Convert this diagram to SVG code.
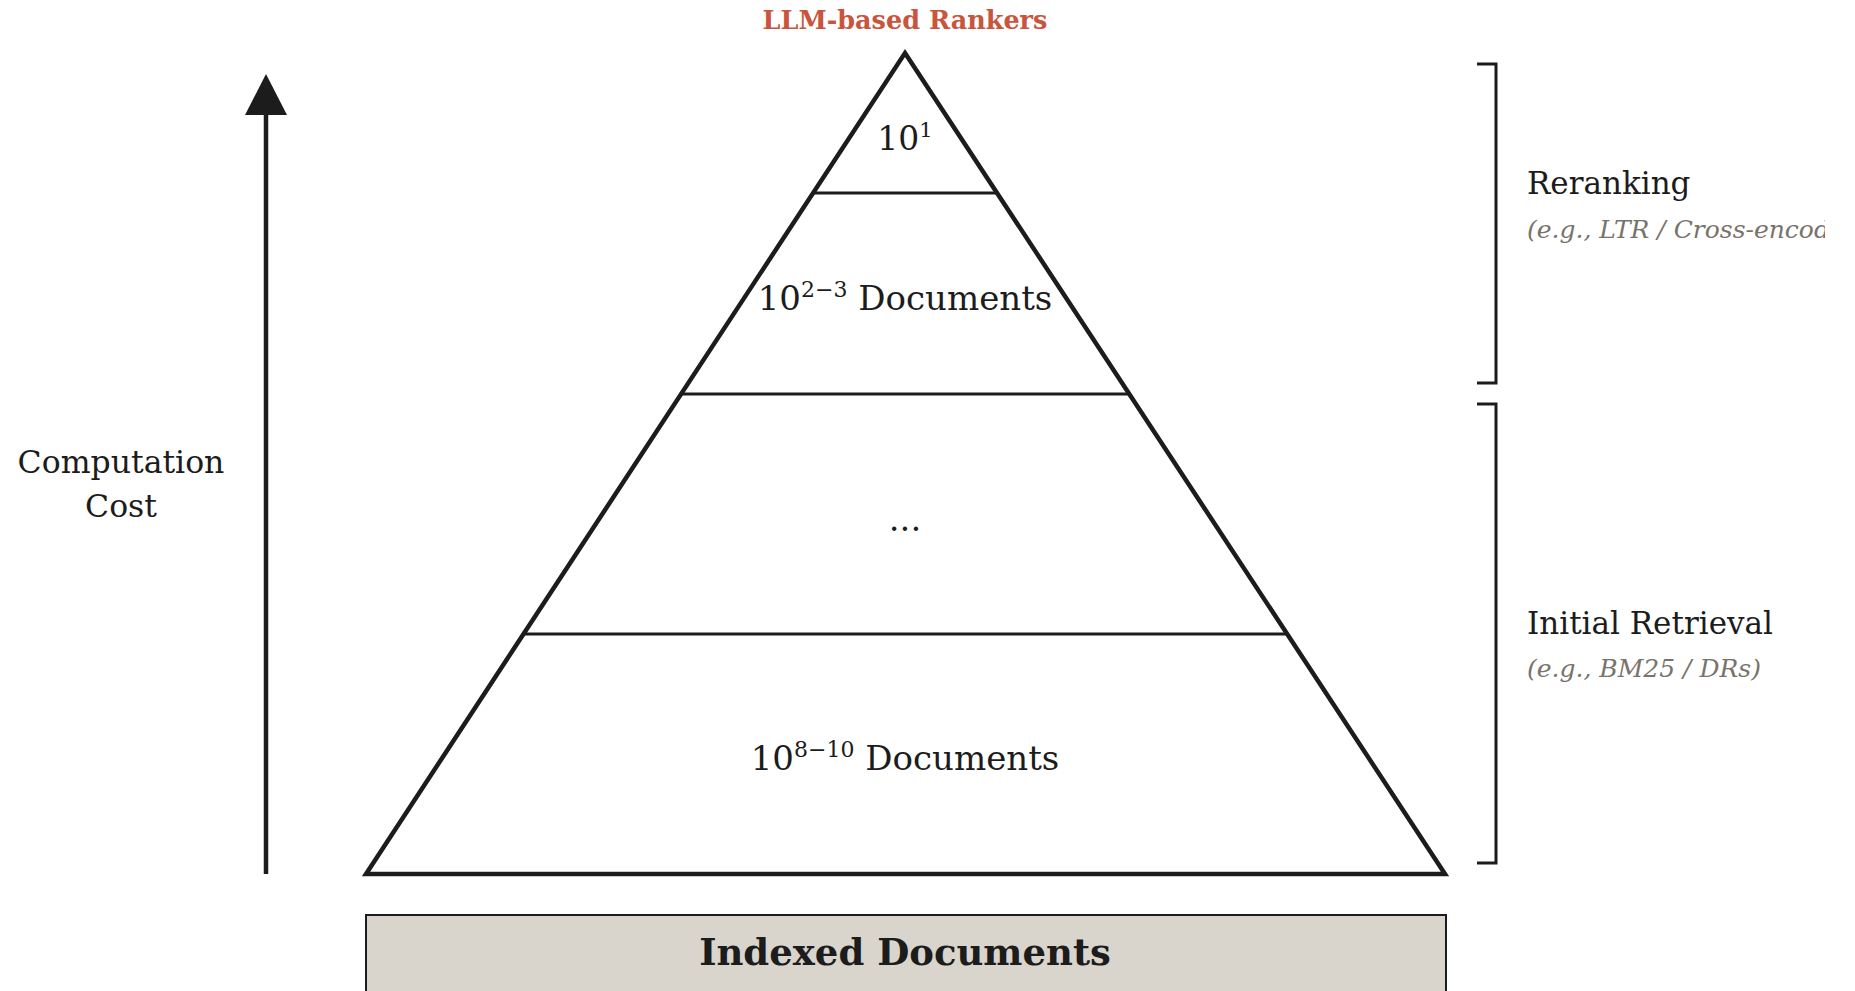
<svg xmlns="http://www.w3.org/2000/svg" width="1855" height="991" viewBox="0 0 1855 991">
<style>
.t{font-family:"DejaVu Serif","Liberation Serif",serif;fill:#1c1c1c}
.ln{stroke:#1c1c1c;fill:none}
.sub{font-family:"DejaVu Serif","Liberation Serif",serif;font-style:italic;fill:#78736b}
</style>
<defs>
<clipPath id="clipR"><rect x="0" y="0" width="1825" height="991"/></clipPath>
</defs>
<rect width="1855" height="991" fill="#ffffff"/>

<g id="cost-axis">
<line class="ln" x1="266" y1="874" x2="266" y2="110" stroke-width="4.5"/>
<polygon points="266,74 245,115 287,115" fill="#1c1c1c"/>
<text class="t" x="121" y="473" font-size="31.5" text-anchor="middle">Computation</text>
<text class="t" x="121" y="517" font-size="31.5" text-anchor="middle">Cost</text>
</g>

<g id="connectors">
<line class="ln" x1="813" y1="193" x2="997" y2="193" stroke-width="3"/>
<line class="ln" x1="682" y1="394" x2="1128" y2="394" stroke-width="3"/>
<line class="ln" x1="523" y1="634" x2="1287" y2="634" stroke-width="3"/>
</g>

<g id="pyramid">
<polygon class="ln" points="905,53 1445,874 366,874" stroke-width="4.5" stroke-linejoin="miter"/>
</g>

<g id="title">
<text x="905" y="29" font-family="DejaVu Serif,Liberation Serif,serif" font-weight="bold" font-size="25.5" fill="#c9553d" text-anchor="middle">LLM-based Rankers</text>
</g>

<g id="tier-top">
<text class="t" x="905" y="150" font-size="33" text-anchor="middle">10<tspan font-size="21" dy="-13">1</tspan></text>
</g>

<g id="tier-rerank">
<text class="t" x="905" y="310" font-size="34" text-anchor="middle">10<tspan font-size="22" dy="-13">2−3</tspan><tspan dy="13"> Documents</tspan></text>
</g>

<g id="tier-mid">
<text class="t" x="905" y="531" font-size="34" text-anchor="middle">...</text>
</g>

<g id="tier-base">
<text class="t" x="905" y="770" font-size="34" text-anchor="middle">10<tspan font-size="22" dy="-13">8−10</tspan><tspan dy="13"> Documents</tspan></text>
</g>

<g id="indexed-documents">
<rect x="366" y="915" width="1080" height="90" fill="#d9d5cc" stroke="#1c1c1c" stroke-width="2"/>
<text class="t" x="905" y="965" font-size="37" font-weight="bold" text-anchor="middle">Indexed Documents</text>
</g>

<g id="reranking">
<polyline class="ln" points="1477,64 1496,64 1496,383 1477,383" stroke-width="3"/>
<text class="t" x="1527" y="194" font-size="31">Reranking</text>
<text class="sub" x="1527" y="238" font-size="25" clip-path="url(#clipR)">(e.g., LTR / Cross-encoders)</text>
</g>

<g id="initial-retrieval">
<polyline class="ln" points="1477,404 1496,404 1496,863 1477,863" stroke-width="3"/>
<text class="t" x="1527" y="634" font-size="31">Initial Retrieval</text>
<text class="sub" x="1527" y="677" font-size="25">(e.g., BM25 / DRs)</text>
</g>
</svg>
